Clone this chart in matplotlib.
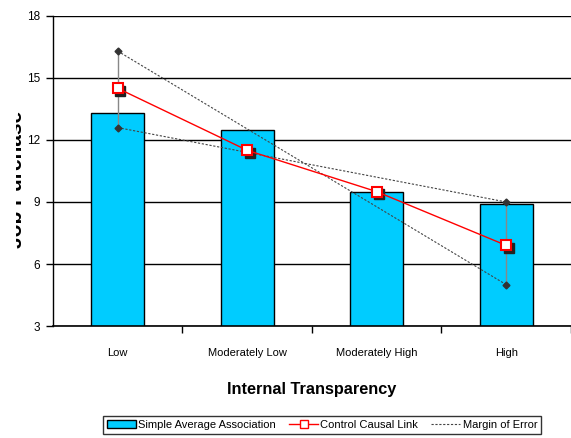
import numpy as np
import matplotlib
matplotlib.use("Agg")
import matplotlib.pyplot as plt
from matplotlib.lines import Line2D
from matplotlib.patches import Patch, Rectangle

plt.rcParams['font.family'] = ['Liberation Sans', 'DejaVu Sans']

# data
categories = ["Low", "Moderately Low", "Moderately High", "High"]
simple_avg = [13.3, 12.5, 9.5, 8.9]
control_link = [14.5, 11.5, 9.5, 6.9]
# margin of error: upper / lower ends at Low and High
margin_x = [0, 3]
margin_low_end = [16.3, 12.6]    # Low: top, bottom
margin_high_end = [9.0, 5.0]     # High: top, bottom

fig = plt.figure(figsize=(5.71, 4.38), dpi=100)
ax = fig.add_axes([0.0928, 0.2557, 0.9072, 0.7078])

x = np.arange(len(categories))
ax.bar(x, simple_avg, width=0.41, color='#00CCFF', edgecolor='black', linewidth=1, zorder=2)

# margin of error: vertical bars and crossing dashed lines
for xi, (top, bot) in zip(margin_x, [margin_low_end, margin_high_end]):
    ax.plot([xi, xi], [bot, top], color='#888888', lw=1, zorder=3)
ax.plot(margin_x, [margin_low_end[0], margin_high_end[1]], color='#444444', lw=0.8,
        ls=(0, (2, 1.5)), marker='D', ms=3.5, mfc='#333333', mec='#333333', zorder=3)
ax.plot(margin_x, [margin_low_end[1], margin_high_end[0]], color='#444444', lw=0.8,
        ls=(0, (2, 1.5)), marker='D', ms=3.5, mfc='#333333', mec='#333333', zorder=3)

# control causal link (with a small shadow like the original)
ax.plot(x + 0.02, np.array(control_link) - 0.12, color='#222222', lw=0, marker='s', ms=6.5, zorder=3)
ax.plot(x, control_link, color='red', lw=1, marker='s', ms=6.5, mfc='white', mec='red', mew=1.5, zorder=4)

ax.set_xlim(-0.5, 3.5)
ax.set_ylim(3, 18)
ax.set_yticks([3, 6, 9, 12, 15, 18])
ax.yaxis.grid(True, color='black', lw=1)
ax.set_axisbelow(True)
ax.set_xticks(x)
ax.set_xticklabels(categories, fontsize=8)
ax.set_xticks(np.arange(0.5, 4, 1), minor=True)
ax.tick_params(axis='x', which='major', length=0, pad=16)
ax.tick_params(axis='x', which='minor', length=5, width=1, direction='out')
ax.tick_params(axis='y', labelsize=8.5, length=5, width=1, pad=4)
ax.spines['top'].set_visible(False)
ax.spines['right'].set_visible(False)
ax.spines['left'].set_linewidth(1)
ax.spines['bottom'].set_linewidth(1.2)

ax.set_xlabel("Internal Transparency", fontsize=11.7, fontweight='bold', labelpad=17)
# y label is cut off at the left edge in the original
fig.text(17 / 571, 0.59, "Job Purchase", rotation=90, fontsize=15, fontweight='bold',
         ha='center', va='center')
fig.add_artist(Rectangle((0, 0), 16 / 571, 1, transform=fig.transFigure,
                         facecolor='white', edgecolor='none', zorder=10))

handles = [Patch(facecolor='#00CCFF', edgecolor='black'),
           Line2D([], [], color='red', lw=1, marker='s', ms=6, mfc='white', mec='red'),
           Line2D([], [], color='#444444', lw=0.8, ls=(0, (2, 1.5)))]
leg = fig.legend(handles, ["Simple Average Association", "Control Causal Link", "Margin of Error"],
                 loc='lower center', bbox_to_anchor=(0.564, -0.003), ncol=3, fontsize=8,
                 frameon=True, fancybox=False, edgecolor='black', handlelength=2.6,
                 columnspacing=1.2, handletextpad=0.2, borderpad=0.35)
leg.get_frame().set_linewidth(1)

fig.savefig("out.png", dpi=100)
